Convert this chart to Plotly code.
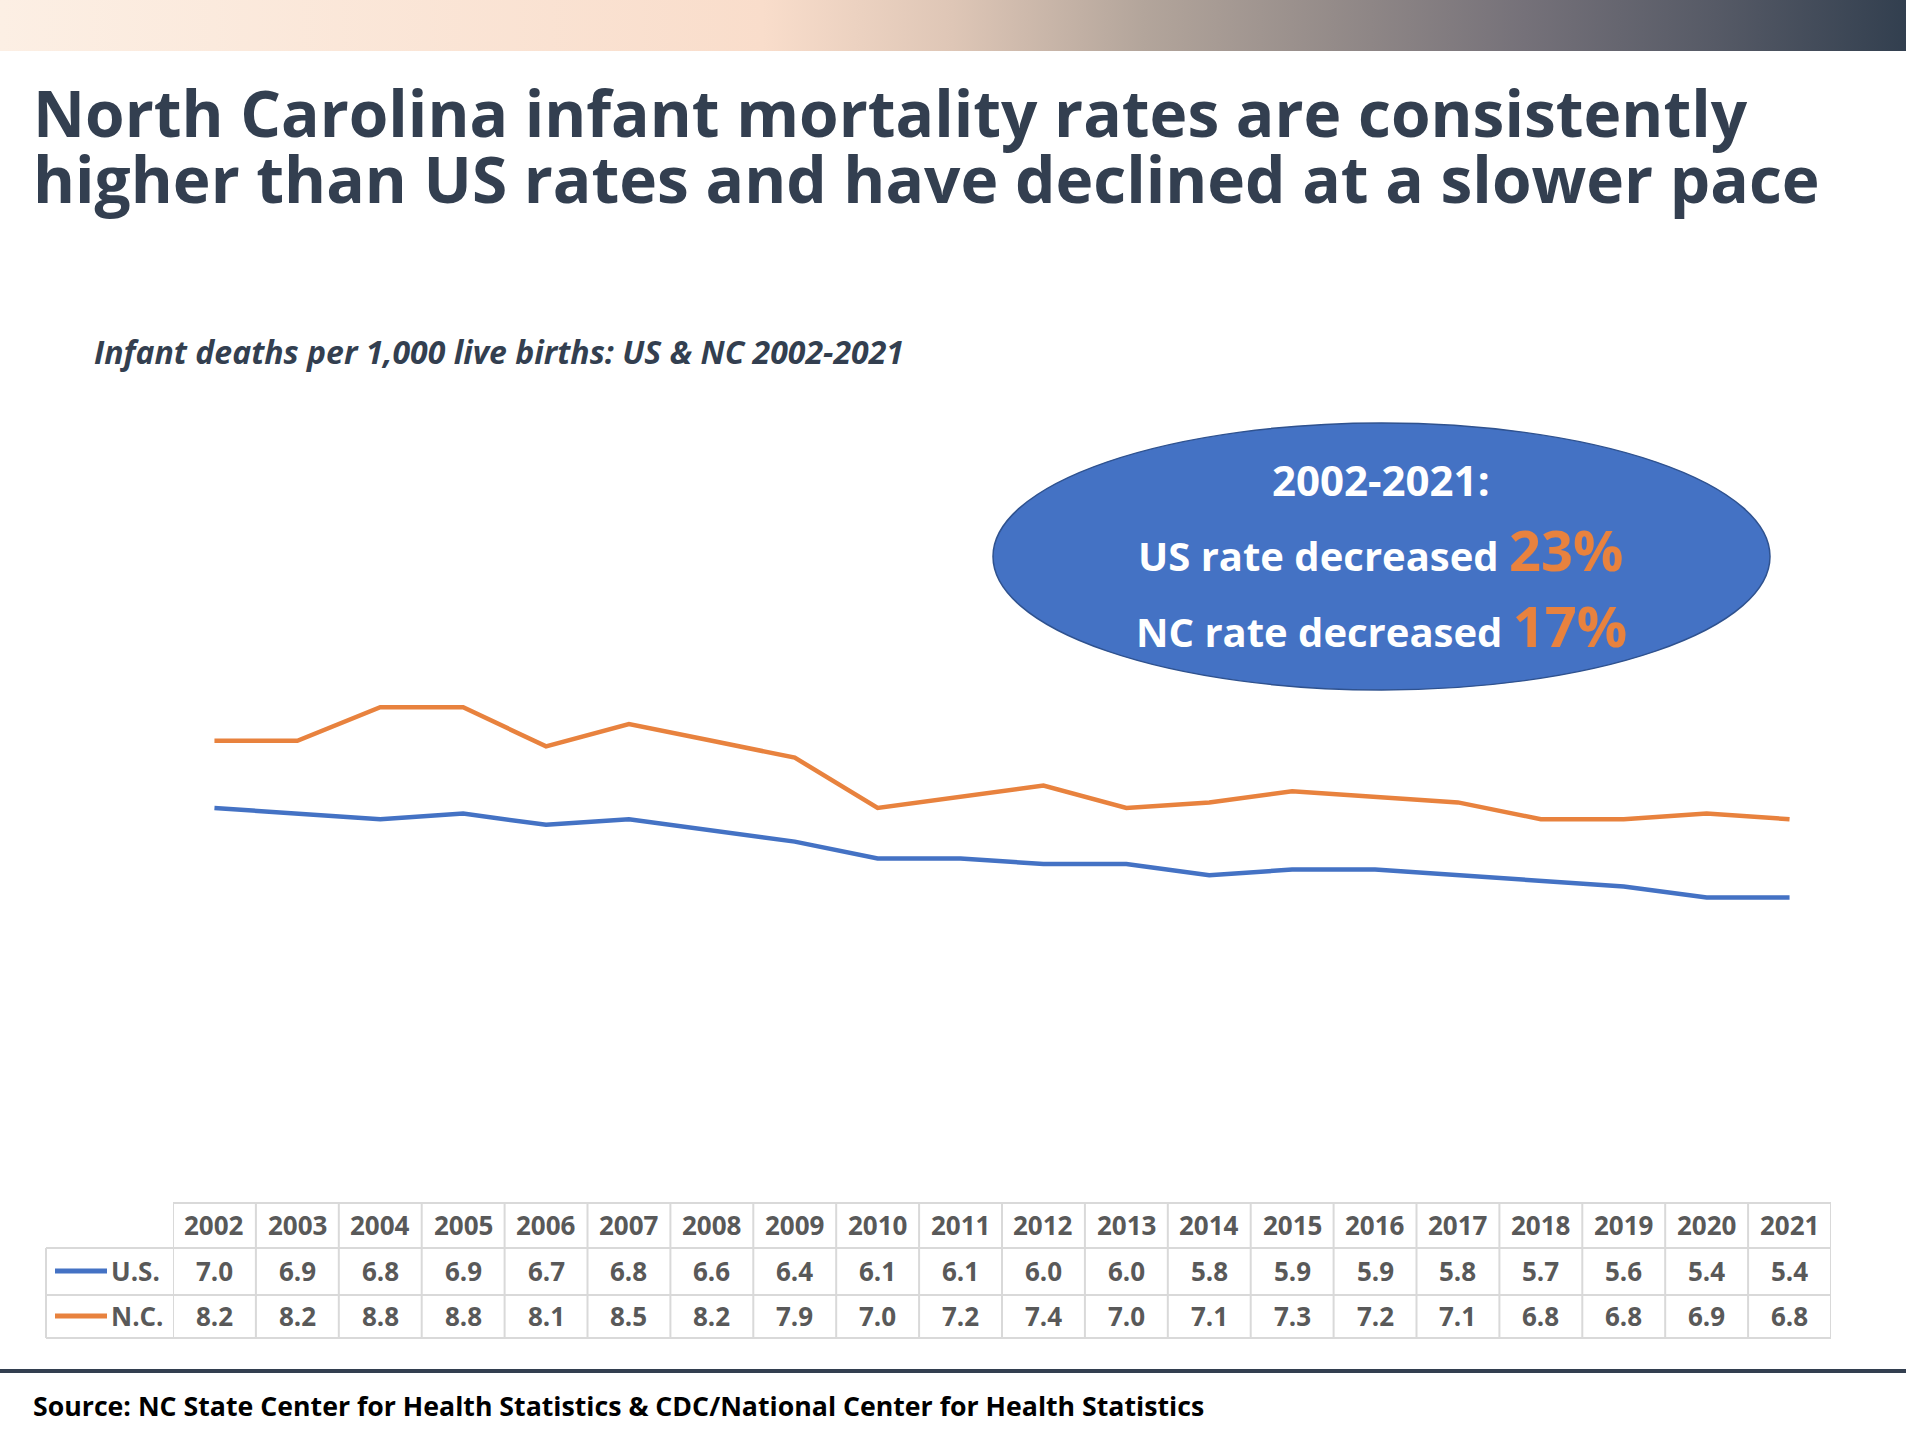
import base64
import plotly.graph_objects as go

W, H = 1906, 1430

# ---------------- data ----------------
years = list(range(2002, 2022))
us_rates = [7.0, 6.9, 6.8, 6.9, 6.7, 6.8, 6.6, 6.4, 6.1, 6.1, 6.0, 6.0, 5.8, 5.9, 5.9, 5.8, 5.7, 5.6, 5.4, 5.4]
nc_rates = [8.2, 8.2, 8.8, 8.8, 8.1, 8.5, 8.2, 7.9, 7.0, 7.2, 7.4, 7.0, 7.1, 7.3, 7.2, 7.1, 6.8, 6.8, 6.9, 6.8]
series_names = ["U.S.", "N.C."]
us_change_pct = 23
nc_change_pct = 17

title_lines = ["North Carolina infant mortality rates are consistently",
               "higher than US rates and have declined at a slower pace"]
subtitle = "Infant deaths per 1,000 live births: US & NC 2002-2021"
source = "Source: NC State Center for Health Statistics & CDC/National Center for Health Statistics"

# ---------------- styles ----------------
BLUE = "#4472C4"
ORANGE = "#E8823E"
DARK = "#333F50"
GRAY_TXT = "#595959"
GRID = "#D9D9D9"
FONT = "Open Sans"


def px(x):
    return x / W


def py(y):
    return 1 - y / H


X_DOMAIN = [px(173), px(1831)]

fig = go.Figure()
series = [(us_rates, BLUE), (nc_rates, ORANGE)]
for (vals, col), name in zip(series, series_names):
    fig.add_trace(go.Scatter(x=years, y=vals, mode="lines", name=name,
                             line=dict(color=col, width=4.5), hoverinfo="skip"))

shapes = []
annotations = []

# gradient banner on top
svg = ('<svg xmlns="http://www.w3.org/2000/svg" width="1906" height="51" preserveAspectRatio="none">'
       '<defs><linearGradient id="g" x1="0" y1="0" x2="1" y2="0">'
       '<stop offset="0" stop-color="#FCEFE4"/>'
       '<stop offset="0.40" stop-color="#F9DDCB"/>'
       '<stop offset="0.50" stop-color="#DEC6B6"/>'
       '<stop offset="0.60" stop-color="#B3A59B"/>'
       '<stop offset="0.70" stop-color="#948B89"/>'
       '<stop offset="0.80" stop-color="#757179"/>'
       '<stop offset="0.90" stop-color="#565A66"/>'
       '<stop offset="1" stop-color="#323F4F"/>'
       '</linearGradient></defs><rect width="1906" height="51" fill="url(#g)"/></svg>')
img_src = "data:image/svg+xml;base64," + base64.b64encode(svg.encode()).decode()

# title
for i, line in enumerate(title_lines):
    annotations.append(dict(text=line, x=px(31), y=py(112 + 67 * i), xref="paper", yref="paper",
                            xanchor="left", yanchor="middle", showarrow=False,
                            font=dict(family=FONT, size=64, color=DARK, weight="bold")))
# subtitle
annotations.append(dict(text="<i>" + subtitle + "</i>", x=px(92), y=py(351), xref="paper", yref="paper",
                        xanchor="left", yanchor="middle", showarrow=False,
                        font=dict(family=FONT, size=32, color=DARK, weight="bold")))

# ellipse callout
shapes.append(dict(type="circle", xref="paper", yref="paper", x0=px(993), x1=px(1770),
                   y0=py(690), y1=py(423), fillcolor=BLUE, line=dict(color="#2F528F", width=1.5),
                   layer="above"))
annotations.append(dict(text="2002-2021:", x=px(1381), y=py(480), xref="paper", yref="paper",
                        xanchor="center", yanchor="middle", showarrow=False,
                        font=dict(family=FONT, size=42, color="white", weight="bold")))
for yc, lab, pct in [(549, "US", us_change_pct), (625, "NC", nc_change_pct)]:
    annotations.append(dict(
        text=f"{lab} rate decreased <span style='font-size:56px;color:{ORANGE}'>{pct}%</span>",
        x=px(1381), y=py(yc), xref="paper", yref="paper", xanchor="center", yanchor="middle",
        showarrow=False, font=dict(family=FONT, size=40, color="white", weight="bold")))

# data table
tbl_top, r1, r2, tbl_bot = 1203, 1248, 1295, 1338
label_left = 46
shapes.append(dict(type="line", xref="paper", yref="paper", x0=X_DOMAIN[0], x1=X_DOMAIN[1],
                   y0=py(tbl_top), y1=py(tbl_top), line=dict(color=GRID, width=2)))
for yy in (r1, r2, tbl_bot):
    shapes.append(dict(type="line", xref="paper", yref="paper", x0=px(label_left), x1=X_DOMAIN[1],
                       y0=py(yy), y1=py(yy), line=dict(color=GRID, width=2)))
shapes.append(dict(type="line", xref="paper", yref="paper", x0=px(label_left), x1=px(label_left),
                   y0=py(r1), y1=py(tbl_bot), line=dict(color=GRID, width=2)))
for yr in years + [years[-1] + 1]:
    shapes.append(dict(type="line", xref="x", yref="paper", x0=yr - 0.5, x1=yr - 0.5,
                       y0=py(tbl_top), y1=py(tbl_bot), line=dict(color=GRID, width=2)))

cell_font = dict(family=FONT, size=26, color=GRAY_TXT, weight="bold")
for i, yr in enumerate(years):
    annotations.append(dict(text=str(yr), x=yr, y=py(1225), xref="x", yref="paper",
                            xanchor="center", yanchor="middle", showarrow=False, font=cell_font))
    for yc, vals in [(1271, us_rates), (1316, nc_rates)]:
        annotations.append(dict(text=f"{vals[i]:.1f}", x=yr, y=py(yc), xref="x", yref="paper",
                                xanchor="center", yanchor="middle", showarrow=False, font=cell_font))

for yc, name, (_, col) in zip([1271, 1316], series_names, series):
    shapes.append(dict(type="line", xref="paper", yref="paper", x0=px(55), x1=px(107),
                       y0=py(yc), y1=py(yc), line=dict(color=col, width=5)))
    annotations.append(dict(text=name, x=px(109), y=py(yc), xref="paper", yref="paper",
                            xanchor="left", yanchor="middle", showarrow=False, font=cell_font))

# bottom rule and source
shapes.append(dict(type="line", xref="paper", yref="paper", x0=0, x1=1, y0=py(1371), y1=py(1371),
                   line=dict(color=DARK, width=4)))
annotations.append(dict(text=source, x=px(31), y=py(1405), xref="paper", yref="paper",
                        xanchor="left", yanchor="middle", showarrow=False,
                        font=dict(family=FONT, size=26.7, color="#000000", weight="bold")))

fig.update_layout(
    width=W, height=H, margin=dict(l=0, r=0, t=0, b=0),
    paper_bgcolor="white", plot_bgcolor="white", showlegend=False,
    xaxis=dict(domain=X_DOMAIN, range=[2001.5, 2021.5], visible=False, fixedrange=True),
    yaxis=dict(domain=[py(1200), py(640)], range=[0, 10], visible=False, fixedrange=True),
    shapes=shapes, annotations=annotations,
    images=[dict(source=img_src, xref="paper", yref="paper", x=0, y=1, sizex=1, sizey=51 / H,
                 xanchor="left", yanchor="top", sizing="stretch", layer="above")],
)

fig.write_html("out.html", config={"displayModeBar": False},
               post_script="document.body.style.margin='0';document.body.style.padding='0';")
